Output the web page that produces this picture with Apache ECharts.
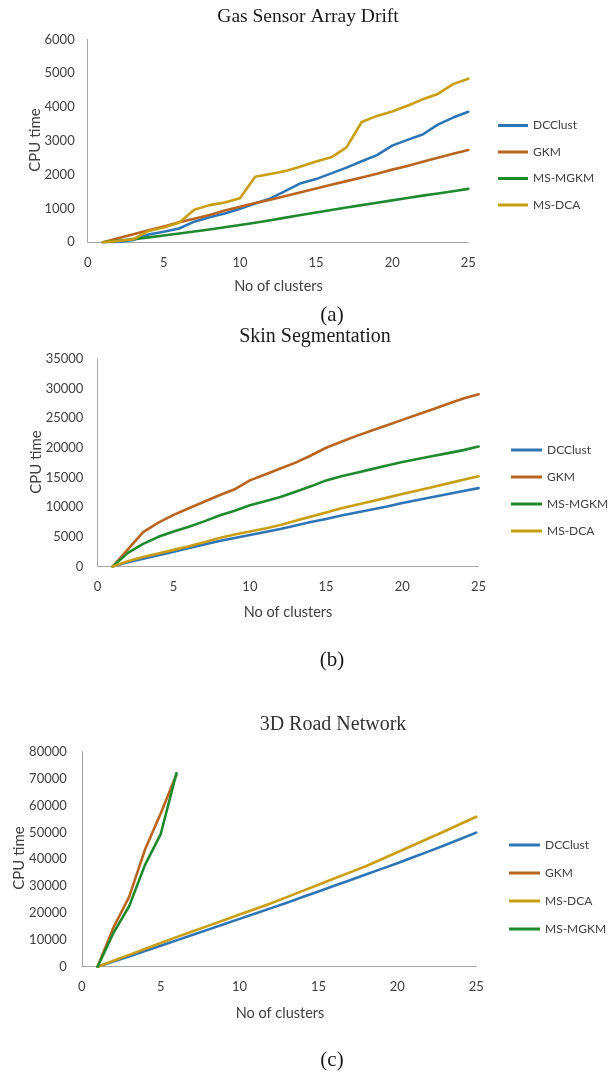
<!DOCTYPE html>
<html>
<head>
<meta charset="utf-8">
<script src="https://cdn.jsdelivr.net/npm/echarts@6/dist/echarts.min.js"></script>
<style>
html,body{margin:0;padding:0;background:#fff;}
#c{width:610px;height:1072px;}
</style>
</head>
<body>
<div id="c"></div>
<script>
// ---------- data ----------
const clusters = [1,2,3,4,5,6,7,8,9,10,11,12,13,14,15,16,17,18,19,20,21,22,23,24,25];
const clustersShort = [1,2,3,4,5,6];

// (a) Gas Sensor Array Drift
const gasDCClust = [0,10,70,230,315,410,610,740,850,990,1150,1300,1520,1750,1870,2040,2210,2400,2580,2860,3030,3190,3480,3690,3860];
const gasGKM     = [0,120,240,360,470,590,700,810,940,1050,1160,1260,1370,1480,1590,1700,1810,1920,2030,2150,2260,2380,2500,2620,2730];
const gasMSMGKM  = [0,45,95,145,200,260,320,380,445,510,580,655,730,805,880,955,1030,1100,1170,1240,1310,1380,1445,1510,1580];
const gasMSDCA   = [0,40,90,335,440,580,960,1100,1180,1300,1940,2020,2110,2240,2390,2515,2810,3560,3740,3870,4040,4230,4390,4680,4840];

// (b) Skin Segmentation
const skinDCClust = [0,700,1300,1900,2500,3100,3700,4300,4800,5300,5800,6300,6900,7500,8000,8600,9100,9600,10100,10700,11200,11700,12200,12700,13200];
const skinGKM     = [0,2900,5800,7400,8700,9800,10900,12000,13000,14500,15500,16500,17500,18700,20000,21000,22000,22900,23800,24700,25600,26500,27400,28300,29000];
const skinMSMGKM  = [0,2300,3800,5000,5900,6700,7600,8600,9400,10300,11000,11700,12600,13500,14500,15200,15800,16400,17000,17600,18100,18600,19100,19600,20200];
const skinMSDCA   = [0,900,1600,2200,2800,3400,4100,4800,5400,5900,6400,7000,7700,8400,9100,9800,10400,11000,11600,12200,12800,13400,14000,14600,15200];

// (c) 3D Road Network
const roadDCClust = [0,1900,3800,5800,7800,9800,11800,13800,15800,17800,19800,21800,23800,25900,28000,30100,32200,34300,36400,38500,40700,42900,45200,47500,49900];
const roadGKM     = [0,14500,26000,43500,57000,71500];
const roadMSDCA   = [0,2200,4400,6600,8800,11000,13100,15200,17300,19400,21500,23600,25900,28200,30500,32800,35100,37400,40000,42600,45200,47800,50400,53100,55800];
const roadMSMGKM  = [0,12500,22500,37800,49300,72000];

const xTicks = {min:0, max:25, interval:5};
const yA = {min:0, max:6000, interval:1000};
const yB = {min:0, max:35000, interval:5000};
const yC = {min:0, max:80000, interval:10000};

// ---------- styling ----------
const COLORS = {
  'DCClust': '#2E75B6',
  'GKM': '#B9641F',
  'MS-MGKM': '#1E8A2D',
  'MS-DCA': '#C99E12'
};
const SANS = 'Lato';
const SERIF = '"Liberation Serif", "Times New Roman", serif';
const TXT = '#404040';
const AXIS = '#a6a6a6';

function pairs(xs, ys){ return ys.map((v,i)=>[xs[i], v]); }

function xAxisCfg(grid){
  return {
    type:'value', gridIndex:grid, min:xTicks.min, max:xTicks.max, interval:xTicks.interval,
    axisLine:{show:true, lineStyle:{color:AXIS, width:1}},
    axisTick:{show:false}, splitLine:{show:false},
    axisLabel:{fontFamily:SANS, fontSize:13, color:TXT, margin:14, formatter:v=>String(v)}
  };
}
function yAxisCfg(grid, t, margin){
  return {
    type:'value', gridIndex:grid, min:t.min, max:t.max, interval:t.interval,
    axisLine:{show:true, lineStyle:{color:AXIS, width:1}},
    axisTick:{show:false}, splitLine:{show:false},
    axisLabel:{fontFamily:SANS, fontSize:13, color:TXT, margin:margin, formatter:v=>String(v)}
  };
}
function line(name, grid, xs, ys){
  return {
    type:'line', name:name, xAxisIndex:grid, yAxisIndex:grid,
    data:pairs(xs, ys), symbol:'none', showSymbol:false, silent:true,
    lineStyle:{color:COLORS[name], width:2.6, cap:'round', join:'round'},
    itemStyle:{color:COLORS[name]}, animation:false
  };
}
function legend(names, left, top, gap, iw){
  return {
    orient:'vertical', left:left, top:top, itemGap:gap, itemWidth:iw, itemHeight:3,
    icon:'rect', selectedMode:false, padding:0,
    textStyle:{fontFamily:SANS, fontSize:12, color:TXT},
    data:names.map(n=>({name:n, icon:'rect', itemStyle:{color:COLORS[n]}}))
  };
}
function text(str, x, y, font, fill, rot){
  return {type:'text', x:x, y:y, rotation:rot||0, silent:true,
    style:{text:str, font:font, fill:fill||TXT, align:'center', verticalAlign:'middle'}};
}

const chart = echarts.init(document.getElementById('c'), null, {renderer:'canvas', width:610, height:1072});
chart.setOption({
  backgroundColor:'#ffffff',
  animation:false,
  grid:[
    {left:87.7, top:39.5, width:380.6, height:202.8},
    {left:97.4, top:358.7, width:381.2, height:207.8},
    {left:81.8, top:751.7, width:394.4, height:215}
  ],
  xAxis:[xAxisCfg(0), xAxisCfg(1), xAxisCfg(2)],
  yAxis:[yAxisCfg(0, yA, 13), yAxisCfg(1, yB, 14), yAxisCfg(2, yC, 15)],
  legend:[
    legend(['DCClust','GKM','MS-MGKM','MS-DCA'], 498, 119.5, 14.5, 30),
    legend(['DCClust','GKM','MS-MGKM','MS-DCA'], 511, 444, 15, 31),
    legend(['DCClust','GKM','MS-DCA','MS-MGKM'], 509, 839, 16, 31)
  ],
  series:[
    line('DCClust',0,clusters,gasDCClust),
    line('GKM',0,clusters,gasGKM),
    line('MS-MGKM',0,clusters,gasMSMGKM),
    line('MS-DCA',0,clusters,gasMSDCA),
    line('DCClust',1,clusters,skinDCClust),
    line('GKM',1,clusters,skinGKM),
    line('MS-MGKM',1,clusters,skinMSMGKM),
    line('MS-DCA',1,clusters,skinMSDCA),
    line('DCClust',2,clusters,roadDCClust),
    line('GKM',2,clustersShort,roadGKM),
    line('MS-DCA',2,clusters,roadMSDCA),
    line('MS-MGKM',2,clustersShort,roadMSMGKM)
  ],
  graphic:[
    text('Gas Sensor Array Drift', 308, 17, '19.5px '+SERIF, '#1a1a1a'),
    text('Skin Segmentation', 315, 337, '20px '+SERIF, '#1a1a1a'),
    text('3D Road Network', 333, 725, '20px '+SERIF, '#333333'),
    text('CPU time', 35, 140, '15px '+SANS, TXT, Math.PI/2),
    text('CPU time', 36, 462, '15px '+SANS, TXT, Math.PI/2),
    text('CPU time', 19, 858, '15px '+SANS, TXT, Math.PI/2),
    text('No of clusters', 278.5, 286, '14.5px '+SANS, TXT),
    text('No of clusters', 288, 612, '14.5px '+SANS, TXT),
    text('No of clusters', 280, 1013, '14.5px '+SANS, TXT),
    text('(a)', 332, 315, '21px '+SERIF, '#1a1a1a'),
    text('(b)', 332, 660, '21px '+SERIF, '#1a1a1a'),
    text('(c)', 332, 1060, '21px '+SERIF, '#1a1a1a')
  ]
});
</script>
</body>
</html>
